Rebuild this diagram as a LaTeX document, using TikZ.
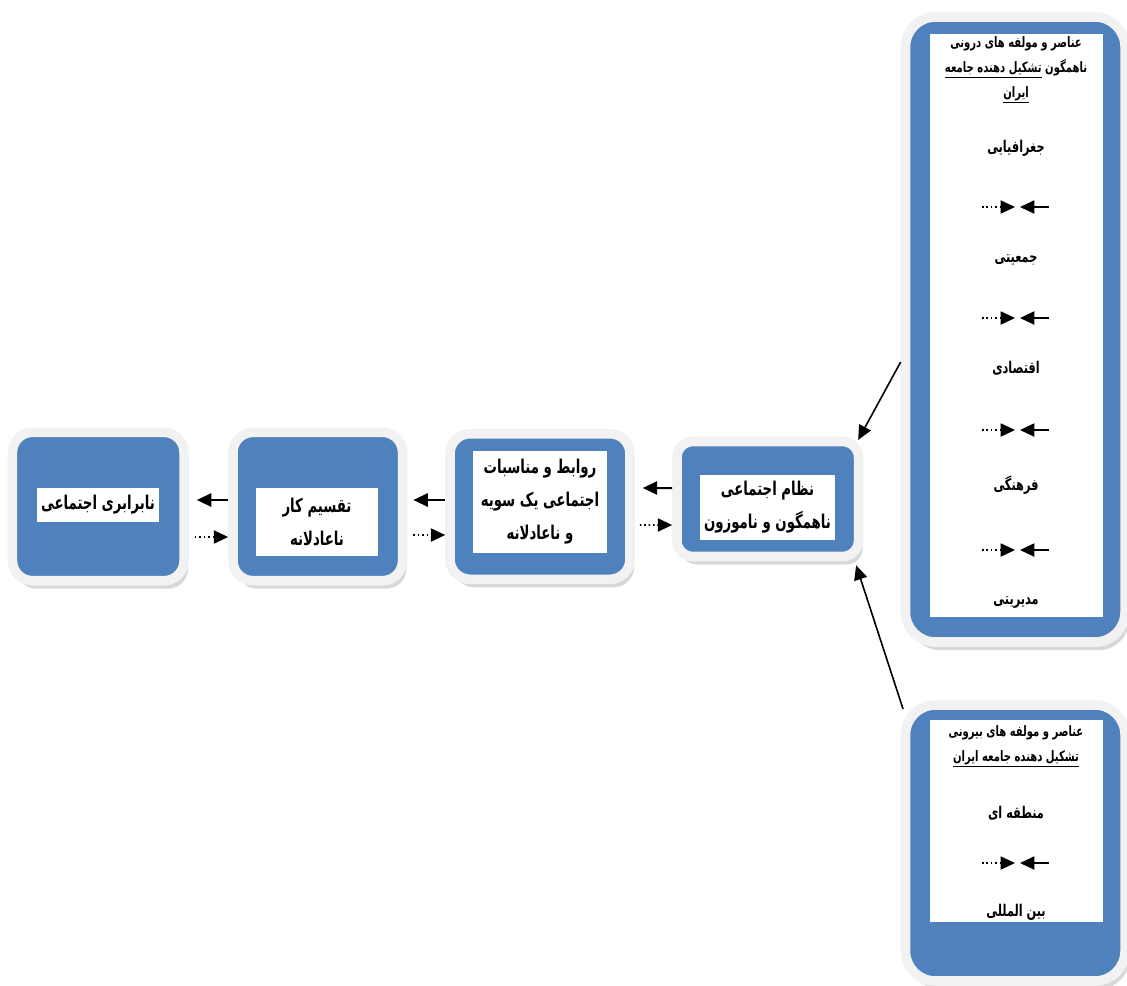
\documentclass[tikz,border=0pt]{standalone}
\usepackage{fontspec}
\newfontfamily\arabicfont[Script=Arabic, FakeStretch=0.7]{DejaVu Sans}
\TeXXeTstate=1
\usetikzlibrary{arrows.meta,shadows}

\definecolor{boxblue}{HTML}{4F81BD}
\definecolor{framegray}{HTML}{F2F2F2}

\tikzset{
	bluebox/.style={draw=framegray, line width=2.4mm, fill=boxblue,
		rounded corners=5mm,
		drop shadow={shadow xshift=1mm, shadow yshift=-2mm, fill=black!30}},
	panel/.style={fill=white, inner sep=0pt},
	fa/.style={font=\arabicfont\bfseries\fontsize{13.5}{23.5}\selectfont, align=center},
	fahead/.style={font=\arabicfont\bfseries\fontsize{10.2}{17.7}\selectfont, align=center, inner sep=0pt},
	falabel/.style={font=\arabicfont\bfseries\fontsize{11.5}{12}\selectfont, inner sep=0pt},
	solidarr/.style={-{Triangle[length=3.6mm,width=3.3mm]}, line width=0.5mm},
	dotarr/.style={-{Triangle[length=3.6mm,width=3.3mm]}, line width=0.4mm, dotted},
}

\begin{document}
\begin{tikzpicture}[x=0.25mm, y=-0.25mm]
	
	\useasboundingbox (0,0) rectangle (1127,985);
	
	% Box nabarabari
	\node [bluebox,
	minimum width=42.9mm,
	minimum height=37.1mm] (nabar) at (98.25,506.5){};
	
	\node [panel, fa,
	minimum width=30.5mm,
	minimum height=8.5mm] (nabarP) at (98,505) {\beginR نابرابری اجتماعی\endR};
	
	% Box taqsim
	\node [bluebox,
	minimum width=42.4mm,
	minimum height=37.1mm] (taqsim) at (317.75,506.5){};
	
	\node [panel, fa,
	minimum width=30.5mm,
	minimum height=17mm] (taqsimP) at (317,522) {\beginR تقسیم کار\endR\\\beginR ناعادلانه\endR};
	
	% Box ravabet
	\node [bluebox,
	minimum width=45mm,
	minimum height=36.4mm] (ravabet) at (540,506.5){};
	
	\node [panel, fa,
	minimum width=33.5mm,
	minimum height=25.5mm] (ravabetP) at (540,502) {\beginR روابط و مناسبات\endR\\\beginR اجتماعی یک سویه\endR\\\beginR و ناعادلانه\endR};
	
	% Box nezam
	\node [bluebox,
	rounded corners=4mm,
	minimum width=45.4mm,
	minimum height=28.75mm] (nezam) at (767.75,499){};
	
	\node [panel, fa,
	minimum width=33.75mm,
	minimum height=16.25mm] (nezamP) at (767.5,507.5) {\beginR نظام اجتماعی\endR\\\beginR ناهمگون و ناموزون\endR};
	
	% Box daroni
	\node [bluebox,
	rounded corners=7.5mm,
	minimum width=54.9mm,
	minimum height=156.25mm] (darooni) at (1015.25,329.5){};
	
	\node [panel,
	minimum width=43.25mm,
	minimum height=145.75mm] (darooniP) at (1016.5,325.5){};
	
	\node [fahead] (darooniH) at (1016,70) {\beginR عناصر و مولفه های درونی\endR\\\beginR ناهمگون \underline{\beginR تشکیل دهنده جامعه\endR}\endR\\\underline{\beginR ایران\endR}};
	
	\node [falabel] (geo) at (1016,148) {\beginR جغرافیایی\endR};
	\node [falabel] (jam) at (1016,260) {\beginR جمعیتی\endR};
	\node [falabel] (eqt) at (1016,368) {\beginR اقتصادی\endR};
	\node [falabel] (farh) at (1016,485) {\beginR فرهنگی\endR};
	\node [falabel] (mod) at (1016,603) {\beginR مدیریتی\endR};
	
	% Box bironi
	\node [bluebox,
	rounded corners=7.5mm,
	minimum width=54.9mm,
	minimum height=69mm] (birooni) at (1015.25,843){};
	
	\node [panel,
	minimum width=43.25mm,
	minimum height=50.5mm] (birooniP) at (1016.5,821){};
	
	\node [fahead] (birooniH) at (1016,746.5) {\beginR عناصر و مولفه های بیرونی\endR\\\underline{\beginR تشکیل دهنده جامعه ایران\endR}};
	
	\node [falabel] (mant) at (1016,813) {\beginR منطقه ای\endR};
	\node [falabel] (bein) at (1016,912) {\beginR بین المللی\endR};
	
	% small arrow pairs
	\foreach \yy [count=\i] in {207,318,430,550,863} {
		\coordinate (dA\i) at (982,\yy);
		\coordinate (dB\i) at (1015,\yy);
		\coordinate (sA\i) at (1049,\yy);
		\coordinate (sB\i) at (1020,\yy);
		\draw [dotarr, line width=0.3mm] (dA\i) -- (dB\i);
		\draw [solidarr, line width=0.4mm] (sA\i) -- (sB\i);
	}
	
	% arrows between boxes
	\draw [solidarr, shorten >=2mm] ([yshift=1.625mm]taqsim.west) -- ([yshift=1.625mm]nabar.east);
	\draw [dotarr, shorten <=1.5mm] ([yshift=-7.625mm]nabar.east) -- ([yshift=-7.625mm]taqsim.west);
	
	\draw [solidarr, shorten >=1.5mm] ([yshift=1.625mm]ravabet.west) -- ([yshift=1.625mm]taqsim.east);
	\draw [dotarr, shorten <=1.5mm] ([yshift=-7.125mm]taqsim.east) -- ([yshift=-7.125mm]ravabet.west);
	
	\draw [solidarr, shorten >=2mm] ([yshift=2.75mm]nezam.west) -- ([yshift=4.625mm]ravabet.east);
	\draw [dotarr, shorten <=1.25mm] ([yshift=-4.625mm]ravabet.east) -- ([yshift=-6.5mm]nezam.west);
	
	\draw [solidarr, line width=0.4mm] ([yshift=-8.125mm]darooni.west) -- ([xshift=-1.3mm,yshift=-0.8mm]nezam.north east);
	\draw [solidarr, line width=0.4mm] ([xshift=0.6mm,yshift=-2.2mm]birooni.north west) -- ([xshift=-1.8mm,yshift=-1mm]nezam.south east);
	
\end{tikzpicture}
\end{document}
